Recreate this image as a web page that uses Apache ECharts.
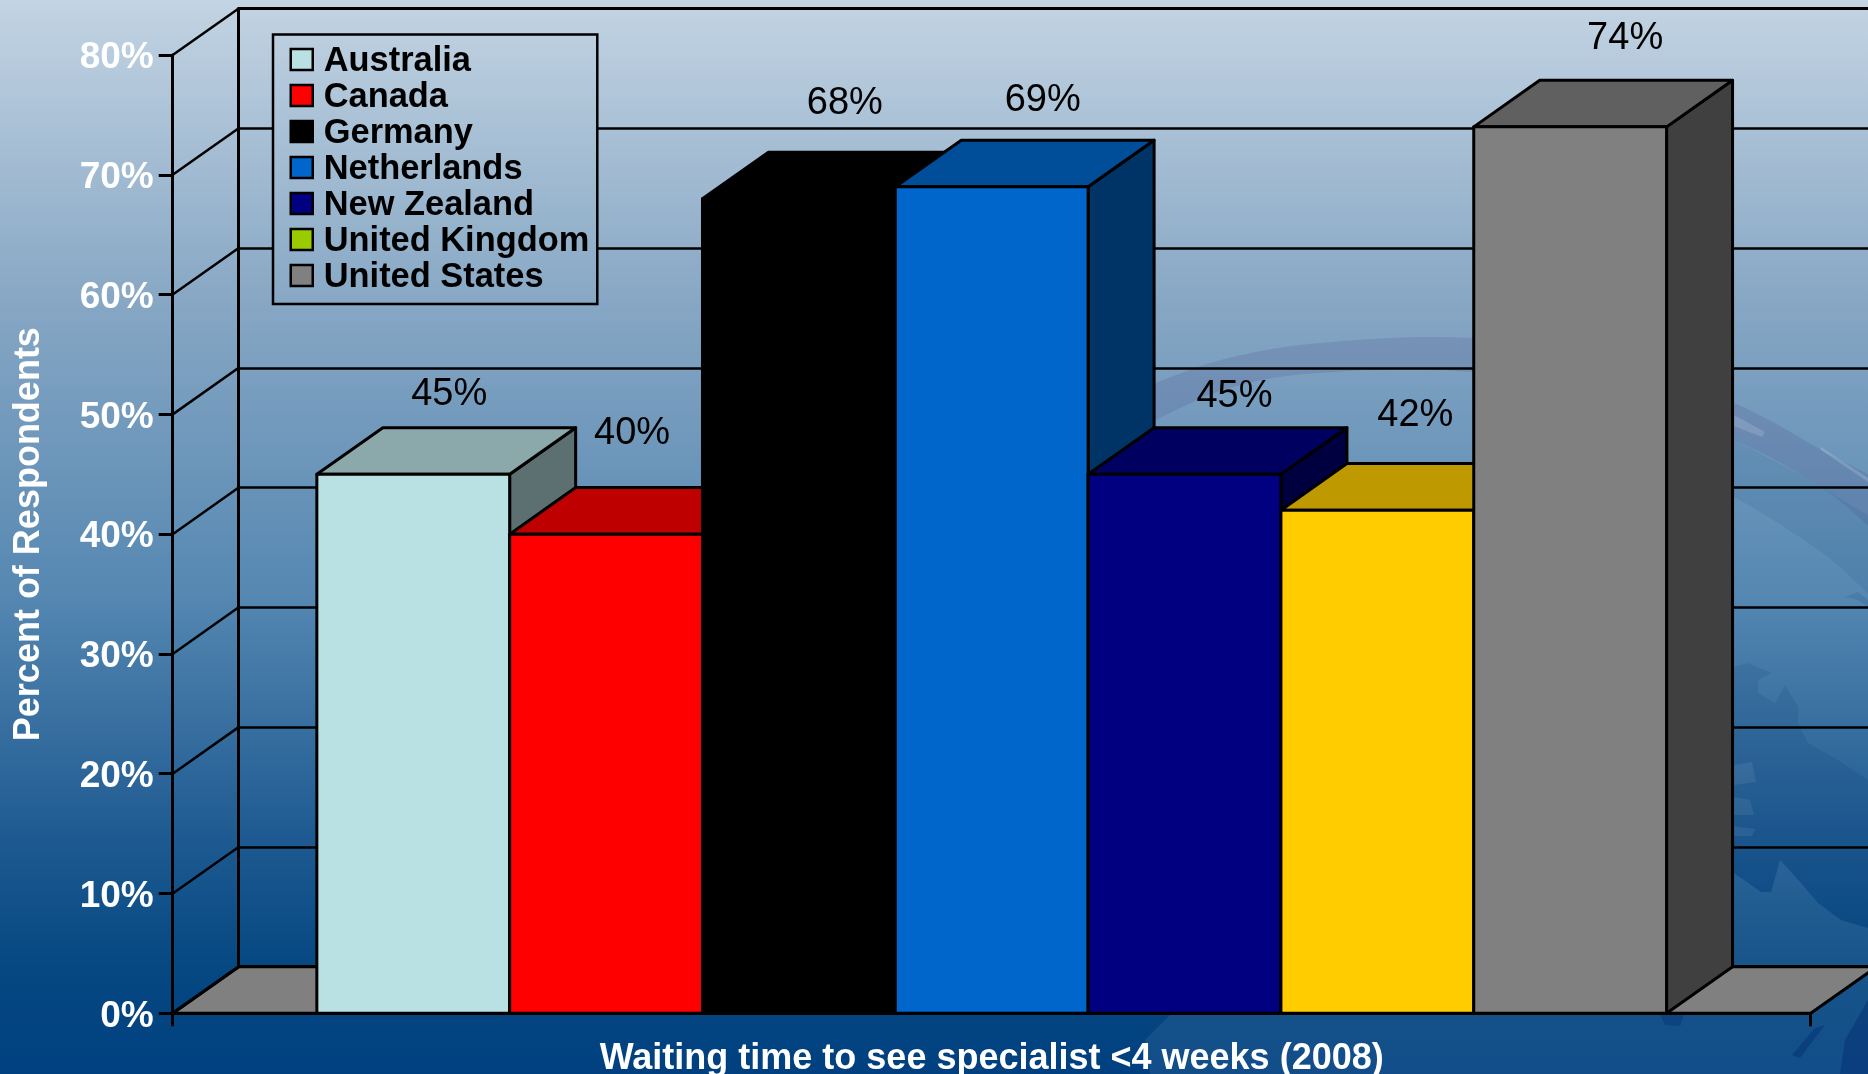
<!DOCTYPE html>
<html>
<head>
<meta charset="utf-8">
<title>Waiting time to see specialist</title>
<style>
  html, body { margin: 0; padding: 0; background: #004080; overflow: hidden; }
  #chart { width: 1868px; height: 1074px; }
</style>
<script src="https://cdn.jsdelivr.net/npm/echarts@6/dist/echarts.min.js"></script>
</head>
<body>
<div id="chart"></div>
<script>
// Chart data
const categories = ['Waiting time to see specialist <4 weeks (2008)'];
const countries = ['Australia', 'Canada', 'Germany', 'Netherlands', 'New Zealand', 'United Kingdom', 'United States'];
const percentages = [45, 40, 68, 69, 45, 42, 74];
const yTicks = [0, 10, 20, 30, 40, 50, 60, 70, 80];

// Palette: bar faces, and legend swatches (the United Kingdom swatch differs from its bar)
const barColors = ['#b9e0e2', '#ff0000', '#000000', '#0066cc', '#000080', '#ffcc00', '#808080'];
const swatchColors = ['#b9e0e2', '#ff0000', '#000000', '#0066cc', '#000080', '#99cc00', '#808080'];

// Hand-placed value labels, as pixel nudges from each bar's front-top centre
const labelNudges = [[36, -80], [26, -101], [46, -95], [51, -86], [50, -78], [38, -95], [55, -88]];

// Layout of the pseudo-3D box
const FRONT = { left: 172.7, right: 1810.7, top: 55, bottom: 1013.3 };
const DEPTH_X = 66;
const DEPTH_Y = 46.6;
const CATEGORY_GAP = 0.176;
const FONT = '"Liberation Sans", Arial, sans-serif';

// Sky-to-ocean backdrop
const backdropStops = [
  [0, [195, 212, 227]],
  [0.28, [135, 167, 196]],
  [0.55, [86, 136, 178]],
  [0.78, [30, 90, 145]],
  [0.9, [6, 72, 130]],
  [1, [0, 64, 128]]
];

function backdropAt(t) {
  for (let i = 1; i < backdropStops.length; i++) {
    const a = backdropStops[i - 1];
    const b = backdropStops[i];
    if (t <= b[0]) {
      const k = (t - a[0]) / (b[0] - a[0]);
      const c = a[1].map((v, j) => Math.round(v + (b[1][j] - v) * k));
      return 'rgb(' + c.join(',') + ')';
    }
  }
  return 'rgb(0,64,128)';
}

// Faint globe painted behind the plot
const globeShapes = [
  { fill: 'rgba(80,80,140,0.2)', smooth: 0.4, points: [[1100,405],[1155,383],[1233,357],[1333,342],[1473,338],[1600,352],[1734,403],[1821,450],[1900,500],[1900,545],[1821,487],[1734,440],[1600,390],[1473,372],[1333,372],[1233,387],[1155,420],[1100,445]] },
  { fill: 'rgba(0,50,110,0.09)', smooth: 0.3, points: [[1700,425],[1734,440],[1821,487],[1900,545],[1900,615],[1828,557],[1778,523],[1734,497],[1700,480]] },
  { fill: 'rgba(255,255,255,0.14)', points: [[1734,415],[1765,432],[1762,437],[1734,426]] },
  { fill: 'rgba(255,255,255,0.16)', points: [[1821,447],[1868,478],[1868,482],[1821,450]] },
  { fill: 'rgba(0,50,110,0.12)', points: [[1845,597],[1858,592],[1868,600],[1868,607],[1858,600]] },
  { fill: 'rgba(0,50,110,0.12)', points: [[1734,667],[1748,663],[1771,673],[1758,680],[1758,693],[1775,703],[1785,685],[1798,707],[1798,723],[1808,743],[1838,760],[1868,780],[1868,928],[1841,920],[1818,903],[1801,883],[1780,860],[1771,892],[1761,892],[1734,873]] },
  { fill: 'rgba(255,255,255,0.07)', points: [[1734,765],[1752,762],[1756,782],[1734,785]] },
  { fill: 'rgba(255,255,255,0.07)', points: [[1734,797],[1750,800],[1754,815],[1734,815]] },
  { fill: 'rgba(255,255,255,0.07)', points: [[1734,826],[1755,829],[1752,836],[1734,836]] },
  { fill: 'rgba(255,255,255,0.07)', points: [[1150,1074],[1145,1040],[1170,1015],[1734,966],[1734,873],[1761,892],[1771,892],[1780,860],[1801,883],[1818,903],[1841,920],[1868,928],[1868,1074]] },
  { fill: 'rgba(0,40,110,0.4)', points: [[1840,1074],[1845,1040],[1868,1000],[1868,1074]] },
  { fill: 'rgba(0,40,110,0.4)', points: [[1792,1055],[1800,1058],[1825,1025],[1815,1028]] },
  { fill: 'rgba(0,40,110,0.3)', points: [[1660,1015],[1684,1015],[1680,1026],[1665,1025]] }
];

function shade(hex, factor) {
  const n = parseInt(hex.slice(1), 16);
  const part = s => Math.round(((n >> s) & 255) * factor);
  return 'rgb(' + part(16) + ',' + part(8) + ',' + part(0) + ')';
}

// One cuboid: front face, top face and right side, drawn from the axis scales
function cuboid(seriesIndex) {
  return function (params, api) {
    const base = api.coord([0, 0]);
    const top = api.coord([0, api.value(1)]);
    const band = api.size([1, 0])[0];
    const barWidth = band * (1 - CATEGORY_GAP) / countries.length;
    const x0 = base[0] - barWidth * countries.length / 2 + seriesIndex * barWidth;
    const x1 = x0 + barWidth;
    const color = barColors[seriesIndex];
    const edge = { stroke: '#000', lineWidth: 3, lineJoin: 'round' };
    const face = (points, fill) => ({
      type: 'polygon',
      shape: { points: points },
      style: Object.assign({ fill: fill }, edge)
    });
    const nudge = labelNudges[seriesIndex];
    return {
      type: 'group',
      children: [
        face([[x1, top[1]], [x1 + DEPTH_X, top[1] - DEPTH_Y], [x1 + DEPTH_X, base[1] - DEPTH_Y], [x1, base[1]]], shade(color, 0.5)),
        face([[x0, top[1]], [x0 + DEPTH_X, top[1] - DEPTH_Y], [x1 + DEPTH_X, top[1] - DEPTH_Y], [x1, top[1]]], shade(color, 0.75)),
        face([[x0, top[1]], [x1, top[1]], [x1, base[1]], [x0, base[1]]], color),
        {
          type: 'text',
          style: {
            text: api.value(1) + '%',
            x: (x0 + x1) / 2 + nudge[0],
            y: top[1] + nudge[1],
            fill: '#000',
            font: '38px ' + FONT,
            align: 'center',
            verticalAlign: 'middle'
          }
        }
      ]
    };
  };
}

const countrySeries = countries.map((name, i) => ({
  name: name,
  type: 'custom',
  xAxisIndex: 0,
  yAxisIndex: 0,
  z: 3,
  clip: false,
  silent: true,
  encode: { x: 0, y: 1 },
  renderItem: cuboid(i),
  data: [[categories[0], percentages[i]]]
}));

// Grey floor of the box
const floorSeries = {
  type: 'custom',
  xAxisIndex: 0,
  yAxisIndex: 0,
  z: 1,
  clip: false,
  silent: true,
  renderItem: function (params, api) {
    const left = params.coordSys.x;
    const right = left + params.coordSys.width;
    const y = api.coord([0, 0])[1];
    return {
      type: 'polygon',
      shape: { points: [[left, y], [right, y], [right + DEPTH_X, y - DEPTH_Y], [left + DEPTH_X, y - DEPTH_Y]] },
      style: { fill: '#808080', stroke: '#000', lineWidth: 3, lineJoin: 'round' }
    };
  },
  data: [[categories[0], 0]]
};

// Diagonals joining the front axis ticks to the back wall
const depthSeries = {
  type: 'custom',
  xAxisIndex: 0,
  yAxisIndex: 0,
  z: 1,
  clip: false,
  silent: true,
  encode: { y: 1 },
  renderItem: function (params, api) {
    const y = api.coord([0, api.value(1)])[1];
    const x = params.coordSys.x;
    return {
      type: 'line',
      shape: { x1: x, y1: y, x2: x + DEPTH_X, y2: y - DEPTH_Y },
      style: { stroke: '#000', lineWidth: api.value(1) === 0 ? 3 : 2.5 }
    };
  },
  data: yTicks.map(t => [categories[0], t])
};

const hiddenCategoryAxis = position => ({
  type: 'category',
  gridIndex: 1,
  position: position,
  data: [''],
  axisLine: { show: true, lineStyle: { color: '#000', width: 3 } },
  axisTick: { show: false },
  axisLabel: { show: false },
  splitLine: { show: false }
});

const legendTop = 34.5;
const legendBottom = 304;
// Swatch path: the empty trailing segment sits the square slightly above the text's middle
const swatchIcon = 'path://M0 0H22V21H0Z M0 26V26';

const chart = echarts.init(document.getElementById('chart'), null, { renderer: 'canvas' });
chart.setOption({
  animation: false,
  backgroundColor: new echarts.graphic.LinearGradient(0, 0, 0, 1,
    backdropStops.map(s => ({ offset: s[0], color: 'rgb(' + s[1].join(',') + ')' }))),
  graphic: {
    elements: globeShapes.map(s => ({
      type: 'polygon',
      silent: true,
      z: -1,
      shape: { points: s.points, smooth: s.smooth || 0 },
      style: { fill: s.fill }
    }))
  },
  grid: [
    { left: FRONT.left, top: FRONT.top, width: FRONT.right - FRONT.left, height: FRONT.bottom - FRONT.top, outerBoundsMode: 'none' },
    { left: FRONT.left + DEPTH_X, top: FRONT.top - DEPTH_Y, width: FRONT.right - FRONT.left, height: FRONT.bottom - FRONT.top, outerBoundsMode: 'none' }
  ],
  xAxis: [
    {
      type: 'category',
      gridIndex: 0,
      data: categories,
      z: 4,
      axisLine: { show: true, lineStyle: { color: '#000', width: 3 } },
      axisTick: { show: true, length: 13, lineStyle: { color: '#000', width: 3 } },
      axisLabel: { color: '#fff', fontFamily: FONT, fontWeight: 'bold', fontSize: 36, margin: 27.5 },
      splitLine: { show: false }
    },
    hiddenCategoryAxis('bottom'),
    hiddenCategoryAxis('top')
  ],
  yAxis: [
    {
      type: 'value',
      gridIndex: 0,
      min: 0,
      max: 80,
      interval: 10,
      name: 'Percent of Respondents',
      nameLocation: 'middle',
      nameGap: 126,
      nameRotate: 90,
      nameTextStyle: { color: '#fff', fontFamily: FONT, fontWeight: 'bold', fontSize: 36 },
      z: 4,
      axisLine: { show: true, onZero: false, lineStyle: { color: '#000', width: 3 } },
      axisTick: { show: true, length: 14, lineStyle: { color: '#000', width: 3 } },
      axisLabel: {
        color: '#fff', fontFamily: FONT, fontWeight: 'bold', fontSize: 37, margin: 19,
        verticalAlign: 'top',
        lineHeight: 6,
        formatter: '{value}%'
      },
      splitLine: { show: false }
    },
    {
      type: 'value',
      gridIndex: 1,
      min: 0,
      max: 80,
      interval: 10,
      axisLine: { show: true, onZero: false, lineStyle: { color: '#000', width: 3 } },
      axisTick: { show: false },
      axisLabel: { show: false },
      splitLine: { show: true, lineStyle: { color: '#000', width: 2.5 } }
    }
  ],
  legend: {
    orient: 'vertical',
    left: 273,
    top: legendTop,
    padding: [10.5, 8, 9, 16.5],
    itemWidth: 22,
    itemHeight: 26,
    itemGap: 2,
    selectedMode: false,
    borderColor: '#000',
    borderWidth: 2.5,
    backgroundColor: new echarts.graphic.LinearGradient(0, 0, 0, 1, [
      { offset: 0, color: backdropAt(legendTop / 1074) },
      { offset: 1, color: backdropAt(legendBottom / 1074) }
    ]),
    textStyle: {
      color: '#000', fontFamily: FONT, fontWeight: 'bold', fontSize: 34.4, lineHeight: 25,
      padding: [9, 0, 0, 6]
    },
    data: countries.map((name, i) => ({
      name: name,
      icon: swatchIcon,
      itemStyle: { color: swatchColors[i], borderColor: '#000', borderWidth: 2.5 }
    }))
  },
  series: [floorSeries, depthSeries].concat(countrySeries)
});
</script>
</body>
</html>
